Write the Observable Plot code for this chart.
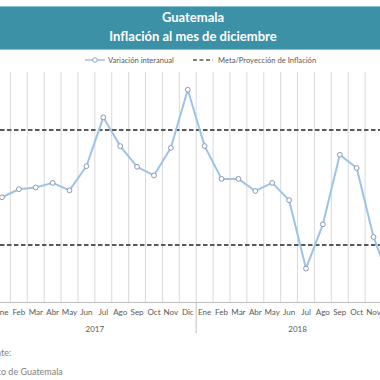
<!DOCTYPE html>
<html>
<head>
<meta charset="utf-8">
<script src="https://cdn.jsdelivr.net/npm/d3@7"></script>
<script src="https://cdn.jsdelivr.net/npm/@observablehq/plot@0.6"></script>
<style>
  html, body { margin: 0; padding: 0; width: 380px; height: 380px; overflow: hidden; background: #fff; font-family: Lato, "Open Sans", sans-serif; }
  #banner { position: absolute; left: 0; top: 6px; width: 380px; height: 42px; background: #3c91a6; border-top: 1px solid #8cc3d0; border-bottom: 1px solid #8cc3d0; }
  .t { position: absolute; left: 0; width: 386px; text-align: center; color: #fff; font-weight: bold; font-size: 13px; line-height: 16px; }
  #legend { position: absolute; top: 54px; left: 0; width: 380px; height: 12px; font-size: 7.6px; color: #595959; }
  #legend span { position: absolute; top: 0; line-height: 12px; white-space: nowrap; }
  #legend svg { position: absolute; top: 0; }
  #chart { position: absolute; left: -30px; top: 62px; width: 439px; height: 280px; }
  #chart svg { max-width: none !important; }
  .cap { position: absolute; left: -18.5px; font-size: 9px; color: #7f7f7f; white-space: nowrap; line-height: 12px; }
</style>
</head>
<body>
<div id="banner">
  <div class="t" style="top:2px">Guatemala</div>
  <div class="t" style="top:21px">Inflación al mes de diciembre</div>
</div>
<div id="legend">
  <svg width="24" height="12" style="left:84px"><line x1="1" y1="6" x2="21" y2="6" stroke="#9dc3e6" stroke-width="1.5"/><circle cx="11" cy="6" r="2.3" fill="#fff" stroke="#8a9bb0" stroke-width="0.9"/></svg>
  <span style="left:108px">Variación interanual</span>
  <svg width="24" height="12" style="left:192px"><line x1="1" y1="6" x2="21" y2="6" stroke="#595959" stroke-width="1.5" stroke-dasharray="4,2.5"/></svg>
  <span style="left:218px">Meta/Proyección de Inflación</span>
</div>
<div id="chart"></div>
<div class="cap" style="top:347px">Fuente:</div>
<div class="cap" style="top:366px">Banco de Guatemala</div>
<script>
const months = ["Ene","Feb","Mar","Abr","May","Jun","Jul","Ago","Sep","Oct","Nov","Dic"];
const years = ["2017","2018"];
const values2017 = [3.83, 3.97, 4.00, 4.08, 3.95, 4.37, 5.22, 4.72, 4.36, 4.21, 4.69, 5.70];
const values2018 = [4.72, 4.15, 4.15, 3.94, 4.08, 3.78, 2.59, 3.36, 4.57, 4.34, 3.14, 2.34];
const metaBands = [3, 5];

const series = [values2017, values2018];
const data = [];
years.forEach((yr, i) => months.forEach((m, j) => data.push({key: m + "-" + yr, month: m, year: yr, value: series[i][j]})));
const keys = data.map(d => d.key);

const width = 439, marginLeft = 23, marginRight = 10.6;
const bw = (width - marginLeft - marginRight) / keys.length;
const yearLabels = years.map(yr => ({year: yr, key: "Jun-" + yr}));

const chart = Plot.plot({
  width, height: 280,
  marginLeft, marginRight, marginTop: 10, marginBottom: 40,
  style: {fontFamily: "Lato, sans-serif", fontSize: "8px", color: "#595959", background: "transparent", maxWidth: "none"},
  x: {type: "band", domain: keys, padding: 0, round: false, axis: null},
  y: {domain: [2, 6], axis: null},
  marks: [
    Plot.ruleX(keys, {x: d => d, dx: bw / 2, stroke: "#d9d9d9", strokeWidth: 1}),
    Plot.ruleY([2], {stroke: "#bfbfbf", strokeWidth: 1}),
    Plot.ruleX(["Dic-2017"], {x: d => d, dx: bw / 2, y1: 2, y2: 2, insetBottom: -31, stroke: "#bfbfbf", strokeWidth: 1}),
    Plot.ruleY(metaBands, {stroke: "#595959", strokeWidth: 2, strokeDasharray: "4.5,2.5"}),
    Plot.line(data, {x: "key", y: "value", stroke: "#9dc3e6", strokeWidth: 2}),
    Plot.dot(data, {x: "key", y: "value", r: 2.4, fill: "#fff", stroke: "#8a9bb0", strokeWidth: 1}),
    Plot.axisX({anchor: "bottom", label: null, tickSize: 0, tickPadding: 7, tickFormat: d => d.split("-")[0], fill: "#595959", fontSize: 8}),
    Plot.text(yearLabels, {x: "key", y: () => 2, dx: bw / 2, dy: 27, text: "year", fill: "#595959", fontSize: 8})
  ]
});
document.getElementById("chart").appendChild(chart);
</script>
</body>
</html>
